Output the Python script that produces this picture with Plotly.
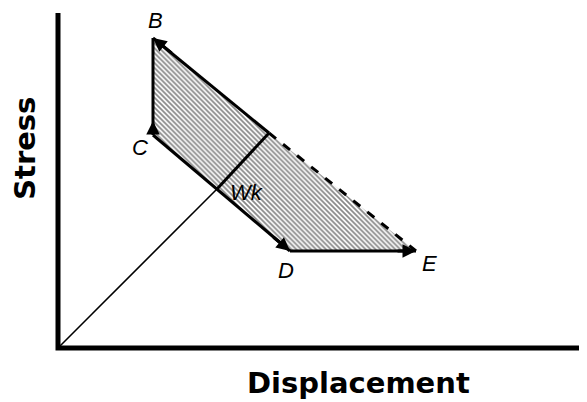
import plotly.graph_objects as go

# Vertices of the hysteresis loop (schematic units)
point_names = ["B", "F", "E", "D", "C"]
loop_x = [95, 211, 358, 232, 95]
loop_y = [310, 215, 97, 97, 213]

# Loading path from origin
load_x = [0, 159, 211]
load_y = [0, 159, 215]

axis_x_max = 529
axis_y_max = 335

P = dict(zip(point_names, zip(loop_x, loop_y)))

fig = go.Figure()

# Hatched work area
fig.add_trace(go.Scatter(
    x=loop_x + [loop_x[0]], y=loop_y + [loop_y[0]],
    mode="lines", fill="toself", line=dict(width=0, color="black"),
    fillcolor="white",
    fillpattern=dict(shape="\\", fgcolor="#111", bgcolor="white", size=3.5, solidity=0.5),
    hoverinfo="skip", showlegend=False))

# Axes
fig.add_trace(go.Scatter(x=[0, 0, axis_x_max + 10], y=[axis_y_max, 0, 0], mode="lines",
                         line=dict(color="black", width=5), showlegend=False, hoverinfo="skip"))

# Loading line (thin then thick)
fig.add_trace(go.Scatter(x=load_x[:2], y=load_y[:2], mode="lines",
                         line=dict(color="black", width=1.6), showlegend=False))
fig.add_trace(go.Scatter(x=load_x[1:], y=load_y[1:], mode="lines",
                         line=dict(color="black", width=3), showlegend=False))

def seg(a, b, dash="solid", w=3):
    fig.add_trace(go.Scatter(x=[P[a][0], P[b][0]], y=[P[a][1], P[b][1]], mode="lines",
                             line=dict(color="black", width=w, dash=dash), showlegend=False))

seg("B", "F")
seg("F", "E", dash="dash")
seg("E", "D")
seg("D", "C")
seg("C", "B")

def arrow(tip, tail):
    fig.add_annotation(x=tip[0], y=tip[1], ax=tail[0], ay=tail[1], xref="x", yref="y",
                       axref="x", ayref="y", text="", showarrow=True, arrowhead=2,
                       arrowsize=0.9, arrowwidth=3, arrowcolor="black", standoff=0)

arrow(P["B"], (P["B"][0] + 20, P["B"][1] - 16))
arrow((P["C"][0], P["C"][1] + 14), P["C"])
arrow(P["D"], (P["D"][0] - 18, P["D"][1] + 15))
arrow(P["E"], (P["E"][0] - 20, P["E"][1]))

lab_font = dict(family="Liberation Sans, Arial", size=22, color="black", style="italic")
labels = [("B", 97, 328), ("C", 82, 201), ("Wk", 188, 156), ("D", 228, 78), ("E", 371, 85)]
for t, x, y in labels:
    fig.add_annotation(x=x, y=y, xref="x", yref="y", text=t, showarrow=False, font=lab_font)

fig.add_annotation(x=0.5754, y=-0.0776, xref="paper", yref="paper", text="Displacement",
                   showarrow=False, xanchor="center", yanchor="middle",
                   font=dict(family="DejaVu Sans", size=29, color="black", weight="bold"))
fig.add_annotation(x=-0.0466, y=0.598, xref="paper", yref="paper", text="Stress",
                   showarrow=False, textangle=-90, xanchor="center", yanchor="middle",
                   font=dict(family="DejaVu Sans", size=29, color="black", weight="bold"))

fig.update_layout(
    width=579, height=394,
    margin=dict(l=42, r=0, t=0, b=46),
    paper_bgcolor="white", plot_bgcolor="white",
    xaxis=dict(range=[-8, 529], visible=False, fixedrange=True),
    yaxis=dict(range=[-8, 340], visible=False, fixedrange=True),
    showlegend=False,
)

fig.write_html("out.html")
